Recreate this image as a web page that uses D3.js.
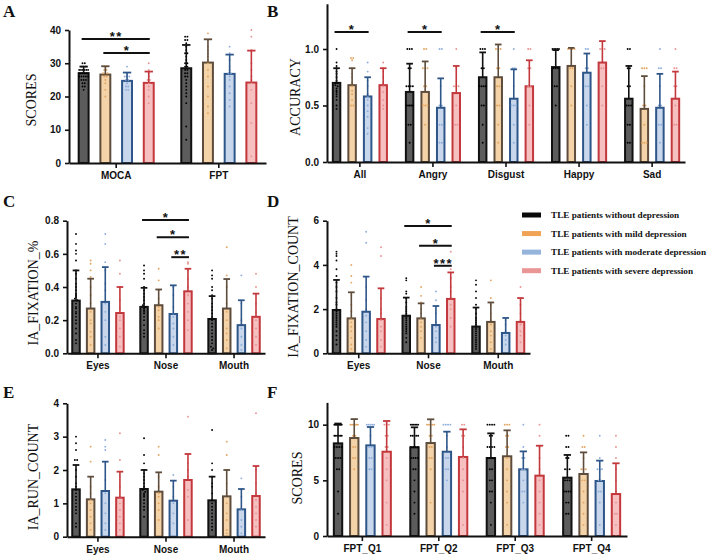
<!DOCTYPE html>
<html>
<head>
<meta charset="utf-8">
<script src="https://cdn.jsdelivr.net/npm/d3@7"></script>
<style>
  body { margin: 0; background: #fff; }
  svg { display: block; }
</style>
</head>
<body>
<svg id="chart" width="709" height="558"></svg>
<script>
// groups and colours
var groupNames = ["TLE patients without depression", "TLE patients with mild depression",
  "TLE patients with moderate depression", "TLE patients with severe depression"];
var fills = ["#5c5c5c", "#f4d3a8", "#c8d7ec", "#f6bfc0"];
var strokes = ["#111111", "#5e4c3c", "#2e5689", "#c3383c"];
var dotColors = ["#000000", "#e3a560", "#8eaedb", "#e99393"];
var swatchColors = ["#0a0a0a", "#f0a255", "#95b4dc", "#ea9696"];

// A: SCORES
var aCats = ["MOCA", "FPT"];
var aTicks = [0, 10, 20, 30, 40];
var aMean = [[27.0, 26.6, 24.7, 24.1], [28.5, 30.2, 26.8, 24.2]];
var aTop = [[29.0, 29.1, 27.2, 27.5], [35.5, 37.2, 32.6, 33.8]];
var aDots = [
  [[30,30,29,29,29,28,28,28,28,28,28,27,27,27,27,27,27,26,26,26,26,26,25,25,25,24,24,23,23,22],
   [29,29,28,28,27,27,27,26,26,25,24,22,20],
   [29,27,26,26,26,25,25,24,23,23,22,22],
   [30,28,27,26,25,25,24,23,22,20,18]],
  [[38,38,37,37,36,35,34,33,33,32,31,30,30,29,29,28,28,27,27,26,26,25,24,23,22,21,20,18,11,7],
   [39,37,35,34,33,32,31,30,28,26,23,20,17,15],
   [35,33,31,29,28,27,27,26,25,23,21,19,17],
   [40,38,34,30,28,26,25,24,22,18,12,2]]
];
var aSig = [[0, 0, 3, 37.3, "**"], [0, 1, 3, 33.1, "*"]];

// B: ACCURACY
var bCats = ["All", "Angry", "Disgust", "Happy", "Sad"];
var bTicks = [0, 0.5, 1.0];
var bMean = [[0.70, 0.68, 0.58, 0.68], [0.62, 0.62, 0.48, 0.61], [0.75, 0.75, 0.56, 0.67],
  [0.84, 0.85, 0.79, 0.88], [0.56, 0.47, 0.48, 0.56]];
var bTop = [[0.83, 0.83, 0.75, 0.83], [0.87, 0.89, 0.74, 0.85], [0.97, 1.04, 0.82, 0.90],
  [0.99, 1.01, 0.96, 1.07], [0.85, 0.76, 0.78, 0.80]];
var bDots = [
  [[1.0,0.88,0.85,0.83,0.8,0.78,0.75,0.72,0.7,0.7,0.68,0.67,0.65,0.63,0.62,0.6,0.58,0.55,0.5,0.47],
   [0.92,0.92,0.9,0.83,0.78,0.75,0.7,0.67,0.63,0.6,0.55,0.5,0.5],
   [0.88,0.8,0.72,0.67,0.6,0.58,0.55,0.5,0.45,0.4,0.3,0.25],
   [0.88,0.83,0.8,0.75,0.7,0.67,0.62,0.55,0.5,0.47]],
  [[1,1,1,0.83,0.83,0.67,0.67,0.67,0.67,0.5,0.5,0.5,0.5,0.5,0.33,0.33,0.17],
   [1,1,0.83,0.83,0.83,0.67,0.67,0.5,0.5,0.5,0.33],
   [1,1,0.67,0.5,0.5,0.33,0.33,0.17,0.17],
   [1,0.83,0.67,0.67,0.67,0.5,0.33,0.33]],
  [[1,1,1,0.83,0.83,0.67,0.67,0.67,0.67,0.5,0.5,0.33,0.17],
   [1,1,1,0.83,0.83,0.67,0.67,0.5,0.5,0.33,0.17],
   [1,0.83,0.83,0.67,0.5,0.5,0.5,0.33,0.17],
   [1,1,0.83,0.83,0.67,0.67,0.5,0.33]],
  [[1,1,1,1,1,0.83,0.83,0.83,0.67,0.67,0.5],
   [1,1,1,1,0.83,0.83,0.67,0.5],
   [1,1,0.83,0.83,0.67,0.67,0.5,0.33],
   [1,1,1,0.83,0.83,0.67,0.5]],
  [[1,1,0.83,0.83,0.67,0.67,0.5,0.5,0.5,0.33,0.33,0.17,0.17],
   [0.83,0.83,0.83,0.67,0.5,0.5,0.33,0.17,0.17,0.17],
   [1,0.83,0.83,0.67,0.5,0.5,0.33,0.33,0.17],
   [1,0.83,0.83,0.67,0.67,0.5,0.33,0.33]]
];
var bSig = [[0, 0, 2, 1.15, "*"], [1, 0, 2, 1.15, "*"], [2, 0, 2, 1.15, "*"]];

// C: IA_FIXATION_%
var faceCats = ["Eyes", "Nose", "Mouth"];
var cTicks = [0, 0.2, 0.4, 0.6, 0.8];
var cMean = [[0.318, 0.27, 0.31, 0.243], [0.28, 0.29, 0.237, 0.374], [0.207, 0.27, 0.17, 0.22]];
var cTop = [[0.50, 0.45, 0.52, 0.40], [0.395, 0.385, 0.41, 0.51], [0.345, 0.448, 0.32, 0.36]];
var cDots = [
  [[0.72,0.66,0.62,0.6,0.56,0.5,0.48,0.45,0.42,0.4,0.38,0.36,0.35,0.34,0.33,0.32,0.3,0.28,0.27,0.25,0.24,0.22,0.2,0.18,0.15,0.12,0.08,0.06],
   [0.56,0.54,0.5,0.46,0.4,0.35,0.3,0.25,0.2,0.18,0.13,0.1,0.05],
   [0.72,0.66,0.55,0.5,0.42,0.38,0.3,0.25,0.2,0.1,0.05],
   [0.56,0.48,0.4,0.32,0.27,0.22,0.2,0.15,0.1,0.04]],
  [[0.53,0.5,0.48,0.45,0.4,0.38,0.36,0.34,0.32,0.3,0.29,0.28,0.27,0.26,0.25,0.24,0.22,0.2,0.17,0.14,0.12,0.1],
   [0.51,0.44,0.38,0.33,0.3,0.28,0.26,0.22,0.2,0.15],
   [0.4,0.35,0.28,0.24,0.22,0.18,0.15,0.1,0.05],
   [0.55,0.54,0.5,0.45,0.4,0.35,0.3,0.25,0.2,0.14]],
  [[0.5,0.47,0.45,0.4,0.38,0.35,0.33,0.3,0.28,0.26,0.24,0.22,0.2,0.18,0.16,0.14,0.12,0.1,0.08,0.06,0.04,0.03,0.02],
   [0.64,0.47,0.4,0.3,0.25,0.2,0.15,0.12,0.08,0.03],
   [0.47,0.3,0.2,0.15,0.1,0.05,0.02],
   [0.48,0.4,0.3,0.25,0.2,0.15,0.1,0.05]]
];
var cSig = [[1, 0, 3, 0.804, "*"], [1, 1, 3, 0.70, "*"], [1, 2, 3, 0.58, "**"]];

// D: IA_FIXATION_COUNT
var dTicks = [0, 2, 4, 6];
var dMean = [[1.96, 1.58, 1.88, 1.55], [1.70, 1.58, 1.28, 2.46], [1.21, 1.42, 0.92, 1.42]];
var dTop = [[3.32, 2.76, 3.47, 2.94], [2.52, 2.26, 2.14, 3.66], [2.07, 2.30, 1.60, 2.50]];
var dDots = [
  [[4.6,4.5,4.4,4.2,3.8,3.5,3.2,3.0,2.8,2.5,2.3,2.2,2.0,1.9,1.8,1.7,1.6,1.5,1.4,1.3,1.2,1.0,0.8,0.6,0.4],
   [4.0,3.5,3.2,2.6,2.2,1.9,1.6,1.4,1.2,1.0,0.7,0.4,0.2],
   [5.5,5.0,3.0,2.4,2.0,1.7,1.4,1.0,0.6,0.3],
   [4.8,4.4,2.5,2.0,1.8,1.5,1.2,1.0,0.6,0.3]],
  [[3.4,3.3,2.8,2.7,2.5,2.3,2.1,2.0,1.9,1.8,1.7,1.6,1.5,1.4,1.3,1.2,1.1,1.0,0.9,0.7,0.5],
   [3.0,2.6,2.3,2.0,1.8,1.6,1.4,1.2,1.0,0.7],
   [2.8,2.4,1.8,1.4,1.2,1.0,0.7,0.5],
   [4.6,3.8,3.4,3.0,2.8,2.5,2.2,2.0,1.6,1.2]],
  [[3.3,3.1,2.8,2.5,2.2,2.0,1.8,1.6,1.5,1.4,1.3,1.2,1.1,1.0,0.9,0.8,0.7,0.6,0.5,0.4,0.3,0.2],
   [3.3,2.5,2.2,1.8,1.5,1.3,1.0,0.8,0.5,0.2],
   [1.5,1.3,1.0,0.8,0.6,0.4],
   [3.0,2.2,1.8,1.5,1.3,1.0,0.8,0.5]]
];
var dSig = [[1, 0, 3, 5.76, "*"], [1, 1, 3, 4.87, "*"], [1, 2, 3, 3.96, "***"]];

// E: IA_RUN_COUNT
var eTicks = [0, 1, 2, 3, 4];
var eMean = [[1.42, 1.12, 1.37, 1.17], [1.43, 1.35, 1.08, 1.70], [1.09, 1.21, 0.82, 1.22]];
var eTop = [[2.15, 1.80, 2.25, 1.95], [2.00, 1.93, 1.68, 2.48], [1.80, 2.00, 1.43, 2.12]];
var eDots = [
  [[3.0,2.8,2.6,2.3,2.3,2.0,1.8,1.6,1.5,1.4,1.3,1.2,1.1,1.0,0.9,0.8,0.7,0.4,0.3],
   [2.7,2.25,1.5,1.3,1.1,1.0,0.8,0.6,0.4,0.2],
   [2.9,2.7,2.6,1.7,1.3,1.0,0.7,0.4,0.2],
   [3.1,2.3,1.5,1.2,1.0,0.8,0.6,0.4,0.2]],
  [[2.95,2.45,2.2,2.0,1.9,1.8,1.7,1.6,1.5,1.45,1.4,1.35,1.3,1.25,1.2,1.1,1.0,0.9,0.8,0.6],
   [2.7,2.45,1.8,1.5,1.3,1.2,1.0,0.8,0.5],
   [1.85,1.5,1.2,1.0,0.7,0.4],
   [3.6,2.2,2.0,1.8,1.4,1.2,0.5]],
  [[3.2,2.2,2.0,1.8,1.6,1.5,1.3,1.1,1.0,0.9,0.8,0.7,0.6,0.5,0.4,0.3,0.2],
   [2.85,2.45,2.0,1.6,1.3,1.0,0.7,0.5,0.2,0.1],
   [1.75,1.2,0.8,0.5,0.3,0.1],
   [3.7,2.0,1.6,1.3,1.1,0.9,0.7,0.5,0.3]]
];

// F: SCORES (FPT quarters)
var fCats = ["FPT_Q1", "FPT_Q2", "FPT_Q3", "FPT_Q4"];
var fTicks = [0, 5, 10];
var fMean = [[8.32, 8.80, 8.14, 7.57], [7.96, 8.35, 7.57, 7.10], [7.00, 7.16, 5.99, 5.42], [5.24, 5.57, 4.94, 3.77]];
var fTop = [[10.1, 10.5, 9.79, 10.33], [9.76, 10.48, 9.37, 9.58], [9.22, 9.49, 7.60, 8.11], [7.28, 7.51, 6.77, 6.53]];
var fDots = [
  [[10,10,10,10,10,10,10,10,10,9,9,9,9,9,9,8,8,8,8,7,7,7,6,6,4,2],
   [10,10,10,10,10,10,9,9,8,8,7,7,6],
   [10,10,10,10,10,9,8,8,7,7,6,6],
   [10,10,10,9,9,8,8,7,6,5,3,1]],
  [[10,10,10,10,10,10,9,9,9,9,9,8,8,8,8,7,7,7,7,6,6,5,4,3,2],
   [10,10,10,10,10,9,9,8,8,7,7,6,3],
   [10,10,10,10,9,8,7,7,6,6,5],
   [10,10,9,9,8,7,6,5,4,1]],
  [[10,10,10,10,9,9,8,8,8,8,7,7,7,7,6,6,5,5,4,4,3,1],
   [10,10,10,9,9,8,8,7,6,5,4,3,1],
   [10,8,7,7,6,6,5,4,4,3],
   [10,9,8,7,6,5,4,3,2,1]],
  [[9,9,8,8,7,7,6,6,6,5,5,5,4,4,4,4,3,3,2,2],
   [9,8,8,7,6,6,6,5,5,4,3,2,1],
   [9,7,6,6,6,5,5,4,4,3,1],
   [9,8,7,6,5,4,3,2,2,1,0]]
];

var SANS = "'Liberation Sans', Arial, sans-serif";
var SERIF = "'Liberation Serif', 'Times New Roman', serif";

var svg = d3.select("#chart");

// layout of each panel (pixels)
var panels = [
  { letter: "A", lx: 3, ly: 17, title: "SCORES", tx: 31, ty: 100, cats: aCats, mean: aMean, top: aTop, dots: aDots, sig: aSig,
    ticks: aTicks, fmt: d3.format("d"), yMax: 40, y0: 163, y1: 30, x0: 69, x1: 266, pad: 0.08, subIn: 0.45, subOut: 0.4 },
  { letter: "B", lx: 267, ly: 17, title: "ACCURACY", tx: 295, ty: 97, cats: bCats, mean: bMean, top: bTop, dots: bDots, sig: bSig,
    ticks: bTicks, fmt: d3.format(".1f"), yMax: 1.4, y0: 162, y1: 3.8, x0: 327, x1: 685, pad: 0.1, subIn: 0.39, subOut: 0.31 },
  { letter: "C", lx: 3, ly: 207, title: "IA_FIXATION_%", tx: 33, ty: 293, cats: faceCats, mean: cMean, top: cTop, dots: cDots, sig: cSig,
    ticks: cTicks, fmt: d3.format(".1f"), yMax: 0.8, y0: 353.3, y1: 220.7, x0: 67, x1: 265, pad: 0.09, subIn: 0.35, subOut: 0.29 },
  { letter: "D", lx: 267, ly: 207, title: "IA_FIXATION_COUNT", tx: 293, ty: 287, cats: faceCats, mean: dMean, top: dTop, dots: dDots, sig: dSig,
    ticks: dTicks, fmt: d3.format("d"), yMax: 6, y0: 353.3, y1: 220.7, x0: 327, x1: 530, pad: 0.09, subIn: 0.36, subOut: 0.32 },
  { letter: "E", lx: 3, ly: 398, title: "IA_RUN_COUNT", tx: 33, ty: 477, cats: faceCats, mean: eMean, top: eTop, dots: eDots, sig: [],
    ticks: eTicks, fmt: d3.format("d"), yMax: 4, y0: 536.7, y1: 403.3, x0: 67, x1: 265, pad: 0.09, subIn: 0.35, subOut: 0.29 },
  { letter: "F", lx: 267, ly: 398, title: "SCORES", tx: 297, ty: 478, cats: fCats, mean: fMean, top: fTop, dots: fDots, sig: [],
    ticks: fTicks, fmt: d3.format("d"), yMax: 12, y0: 536, y1: 402.4, x0: 327, x1: 627, pad: 0.075, subIn: 0.36, subOut: 0.36 }
];

// spread equal values side by side, like a prism scatter; a row never gets wider than the bar
function swarm(vals, y, cx, maxW) {
  var rows = d3.group(vals, function (v) { return Math.round(y(v) / 2.2); });
  var out = [];
  rows.forEach(function (arr) {
    var n = arr.length;
    var step = n > 1 ? Math.min(2.3, maxW / (n - 1)) : 0;
    arr.forEach(function (v, i) { out.push([cx + (i - (n - 1) / 2) * step, y(v)]); });
  });
  return out;
}

panels.forEach(function (p) {
  var g = svg.append("g");
  var sw = 2;

  var y = d3.scaleLinear().domain([0, p.yMax]).range([p.y0, p.y1]);
  var x = d3.scaleBand().domain(p.cats).range([p.x0, p.x1]).paddingInner(p.pad).paddingOuter(0);
  var xs = d3.scaleBand().domain([0, 1, 2, 3]).range([0, x.bandwidth()])
    .paddingInner(p.subIn).paddingOuter(p.subOut);
  var bw = xs.bandwidth();

  p.cats.forEach(function (c, ci) {
    for (var k = 0; k < 4; k++) {
      var left = x(c) + xs(k);
      var cx = left + bw / 2;
      var m = p.mean[ci][k];

      g.append("rect")
        .attr("x", left + sw / 2).attr("width", bw - sw)
        .attr("y", y(m)).attr("height", y(0) - y(m))
        .attr("fill", fills[k]).attr("stroke", strokes[k]).attr("stroke-width", sw);

      swarm(p.dots[ci][k], y, cx, bw - 3).forEach(function (d) {
        g.append("circle").attr("cx", d[0]).attr("cy", d[1]).attr("r", 0.95)
          .attr("fill", dotColors[k]);
      });

      // error bar (mean + SD)
      var capW = bw * 0.7;
      g.append("line").attr("x1", cx).attr("x2", cx).attr("y1", y(m)).attr("y2", y(p.top[ci][k]))
        .attr("stroke", strokes[k]).attr("stroke-width", 1.6);
      g.append("line").attr("x1", cx - capW / 2).attr("x2", cx + capW / 2)
        .attr("y1", y(p.top[ci][k])).attr("y2", y(p.top[ci][k]))
        .attr("stroke", strokes[k]).attr("stroke-width", 1.8);
    }
  });

  // significance bars
  p.sig.forEach(function (s) {
    var c = p.cats[s[0]];
    var xa = x(c) + xs(s[1]) + bw / 2, xb = x(c) + xs(s[2]) + bw / 2;
    g.append("line").attr("x1", xa - 2).attr("x2", xb + 1).attr("y1", y(s[3])).attr("y2", y(s[3]))
      .attr("stroke", "#111").attr("stroke-width", 2);
    g.append("text").attr("x", (xa + xb) / 2).attr("y", y(s[3]) + 2)
      .attr("text-anchor", "middle").attr("font-family", SANS).attr("font-weight", "bold")
      .attr("font-size", 13).attr("letter-spacing", 1.5).attr("fill", "#111").text(s[4]);
  });

  // axes
  var yAxis = g.append("g").attr("transform", "translate(" + p.x0 + ",0)")
    .call(d3.axisLeft(y).tickValues(p.ticks).tickFormat(p.fmt).tickSize(4).tickPadding(4).tickSizeOuter(0));
  var xAxis = g.append("g").attr("transform", "translate(0," + p.y0 + ")")
    .call(d3.axisBottom(x).tickSize(5).tickPadding(4).tickSizeOuter(0));
  [yAxis, xAxis].forEach(function (a) {
    a.select(".domain").attr("stroke", "#111").attr("stroke-width", 2);
    a.selectAll(".tick line").attr("stroke", "#111").attr("stroke-width", 1.6);
    a.selectAll("text").attr("font-family", SANS).attr("font-weight", "bold")
      .attr("font-size", 10).attr("fill", "#111");
  });

  // titles
  g.append("text").attr("transform", "translate(" + p.tx + "," + p.ty + ") rotate(-90)")
    .attr("text-anchor", "middle").attr("dy", "0.35em")
    .attr("font-family", SERIF).attr("font-size", 14).attr("fill", "#111").text(p.title);
  g.append("text").attr("x", p.lx).attr("y", p.ly)
    .attr("font-family", SERIF).attr("font-weight", "bold").attr("font-size", 17)
    .attr("fill", "#111").text(p.letter);
});

// legend
var legend = svg.append("g");
var legendY = d3.scalePoint().domain(groupNames).range([215, 270.7]);
groupNames.forEach(function (name, i) {
  legend.append("rect").attr("x", 522).attr("y", legendY(name) - 2.5).attr("width", 19).attr("height", 5)
    .attr("fill", swatchColors[i]);
  legend.append("text").attr("x", 551).attr("y", legendY(name) + 3.3)
    .attr("font-family", SERIF).attr("font-weight", "bold").attr("font-size", 9.2)
    .attr("fill", "#111").text(name);
});
</script>
</body>
</html>
